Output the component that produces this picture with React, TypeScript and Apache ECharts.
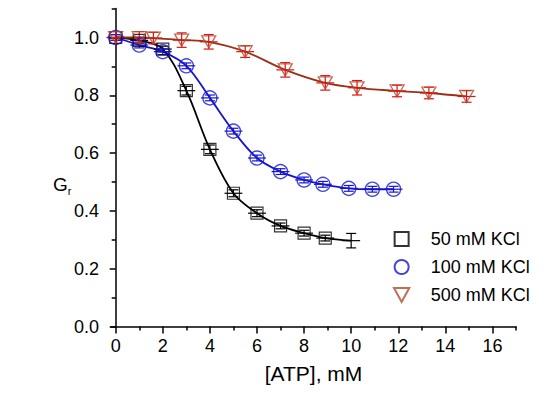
import React, { useEffect, useRef } from "react";
import * as echarts from "echarts";

// ---- data ----
const x50 = [0, 1, 2, 3, 4, 5, 6, 7, 8, 8.9, 10];
const y50 = [1.0, 0.99, 0.96, 0.816, 0.613, 0.461, 0.392, 0.348, 0.323, 0.306, 0.297];
const ye50 = [0.01, 0.01, 0.01, 0.015, 0.015, 0.012, 0.012, 0.01, 0.01, 0.01, 0.025];

const x100 = [0, 1, 2, 3, 4, 5, 6, 7, 8, 8.8, 9.9, 10.9, 11.8];
const y100 = [1.0, 0.974, 0.951, 0.902, 0.791, 0.676, 0.583, 0.536, 0.507, 0.492, 0.478, 0.475, 0.475];
const ye100 = [0.01, 0.01, 0.01, 0.01, 0.01, 0.01, 0.01, 0.01, 0.01, 0.01, 0.01, 0.01, 0.01];

const x500 = [0, 1, 1.6, 2.8, 3.95, 5.5, 7.2, 8.9, 10.25, 11.95, 13.3, 14.9];
const y500 = [1.0, 1.0, 0.998, 0.991, 0.985, 0.951, 0.888, 0.843, 0.826, 0.815, 0.808, 0.796];
const ye500 = [0.02, 0.02, 0.02, 0.025, 0.025, 0.02, 0.025, 0.025, 0.025, 0.02, 0.02, 0.02];

const seriesNames = ["50 mM KCl", "100 mM KCl", "500 mM KCl"];
const xMajorTicks = [0, 2, 4, 6, 8, 10, 12, 14, 16];
const xMinorTicks = [1, 3, 5, 7, 9, 11, 13, 15, 17];
const yMajorTicks = [0, 0.2, 0.4, 0.6, 0.8, 1.0];
const yMinorTicks = [0.1, 0.3, 0.5, 0.7, 0.9, 1.1];

const FONT = "'Liberation Sans', Arial, sans-serif";
const XERR = 0.38;

const pairs = (xs: number[], ys: number[]) => xs.map((x, i) => [x, ys[i]]);
const errs = (xs: number[], ys: number[], es: number[]) => xs.map((x, i) => [x, ys[i], XERR, es[i]]);

const sqPath = "path://M0,0 L10,0 L10,10 L0,10 Z";
const triPath = "path://M0,0 L12,0 L6,11 Z";

function errorSeries(data: number[][], color: string) {
  return {
    type: "custom",
    xAxisIndex: 0,
    yAxisIndex: 0,
    data,
    z: 5,
    silent: true,
    renderItem: (params: any, api: any) => {
      const x = api.value(0);
      const y = api.value(1);
      const xe = api.value(2);
      const ye = api.value(3);
      const l = api.coord([x - xe, y]);
      const r = api.coord([x + xe, y]);
      const t = api.coord([x, y + ye]);
      const b = api.coord([x, y - ye]);
      const st = { stroke: color, lineWidth: 1.2 };
      const cap = 5;
      return {
        type: "group",
        children: [
          { type: "line", shape: { x1: l[0], y1: l[1], x2: r[0], y2: r[1] }, style: st },
          { type: "line", shape: { x1: t[0], y1: t[1], x2: b[0], y2: b[1] }, style: st },
          { type: "line", shape: { x1: t[0] - cap, y1: t[1], x2: t[0] + cap, y2: t[1] }, style: st },
          { type: "line", shape: { x1: b[0] - cap, y1: b[1], x2: b[0] + cap, y2: b[1] }, style: st },
        ],
      };
    },
  };
}

export default function App() {
  const ref = useRef<HTMLDivElement>(null);
  useEffect(() => {
    const chart = echarts.init(ref.current!, null, { renderer: "svg" });
    const axisLine = { show: true, lineStyle: { color: "#000", width: 1.5 } };
    chart.setOption({
      animation: false,
      backgroundColor: "#fff",
      textStyle: { fontFamily: FONT },
      grid: { left: 111, right: 34, top: 8.6, bottom: 72.5, containLabel: false, outerBoundsMode: "none" },
      legend: {
        orient: "vertical",
        left: 388,
        top: 225,
        itemWidth: 48,
        itemHeight: 14,
        itemGap: 10,
        symbolKeepAspect: true,
        textStyle: { fontSize: 18, color: "#000", fontFamily: FONT },
        data: seriesNames,
      },
      xAxis: [
        {
          type: "value",
          min: -0.2,
          max: 17,
          position: "bottom",
          axisLine,
          splitLine: { show: false },
          axisTick: { show: true, inside: false, length: 7, customValues: xMajorTicks, lineStyle: { color: "#000", width: 1.5 } },
          axisLabel: { customValues: xMajorTicks, fontSize: 18, color: "#000", margin: 10, fontFamily: FONT },
          name: "[ATP], mM",
          nameLocation: "middle",
          nameGap: 36,
          nameTextStyle: { fontSize: 21, color: "#000", fontFamily: FONT },
        },
        {
          type: "value",
          min: -0.2,
          max: 17,
          position: "bottom",
          axisLine: { show: false },
          splitLine: { show: false },
          axisTick: { show: true, inside: false, length: 4, customValues: xMinorTicks, lineStyle: { color: "#000", width: 1.5 } },
          axisLabel: { show: false },
        },
      ],
      yAxis: [
        {
          type: "value",
          min: 0,
          max: 1.1,
          position: "left",
          axisLine,
          splitLine: { show: false },
          axisTick: { show: true, inside: false, length: 6, customValues: yMajorTicks, lineStyle: { color: "#000", width: 1.5 } },
          axisLabel: {
            customValues: yMajorTicks,
            fontSize: 18,
            color: "#000",
            margin: 12,
            fontFamily: FONT,
            formatter: (v: number) => v.toFixed(1),
          },
        },
        {
          type: "value",
          min: 0,
          max: 1.1,
          position: "left",
          axisLine: { show: false },
          splitLine: { show: false },
          axisTick: { show: true, inside: false, length: 4, customValues: yMinorTicks, lineStyle: { color: "#000", width: 1.5 } },
          axisLabel: { show: false },
        },
      ],
      graphic: [
        {
          type: "text",
          left: 53,
          top: 175,
          style: {
            text: "{g|G}{s|r}",
            rich: {
              g: { fontSize: 19, fontFamily: FONT, fill: "#000" },
              s: { fontSize: 11, fontFamily: FONT, fill: "#000", padding: [13, 0, 0, 0] },
            },
          },
        },
      ],
      series: [
        // fitted curves
        {
          type: "line", name: "fit50", data: pairs(x50, y50), smooth: 0.35, symbol: "none",
          lineStyle: { color: "#000", width: 1.8 }, z: 2, silent: true,
        },
        {
          type: "line", name: "fit100", data: pairs(x100, y100), smooth: 0.35, symbol: "none",
          lineStyle: { color: "#1515d0", width: 1.8 }, z: 2, silent: true,
        },
        {
          type: "line", name: "fit500", data: pairs(x500, y500), smooth: 0.35, symbol: "none",
          lineStyle: { color: "#9a3015", width: 1.8 }, z: 2, silent: true,
        },
        errorSeries(errs(x50, y50, ye50), "#000"),
        errorSeries(errs(x100, y100, ye100), "#1515d0"),
        errorSeries(errs(x500, y500, ye500), "#e01010"),
        // symbols
        {
          type: "scatter", name: seriesNames[0],
          data: pairs(x50, y50).map((p, i) => (i === x50.length - 1 ? { value: p, symbolSize: 0 } : p)),
          symbol: sqPath, symbolSize: 12, symbolKeepAspect: true,
          itemStyle: { color: "rgba(255,255,255,0)", borderColor: "#000", borderWidth: 1.2 }, z: 6,
        },
        {
          type: "scatter", name: seriesNames[1], data: pairs(x100, y100),
          symbol: "circle", symbolSize: 14,
          itemStyle: { color: "rgba(255,255,255,0)", borderColor: "#1515d0", borderWidth: 1.4 }, z: 6,
        },
        {
          type: "scatter", name: seriesNames[2], data: pairs(x500, y500),
          symbol: triPath, symbolSize: [14, 12],
          itemStyle: { color: "rgba(255,255,255,0)", borderColor: "#b04a2a", borderWidth: 1.3 }, z: 6,
        },
      ],
    });
    return () => chart.dispose();
  }, []);
  return <div ref={ref} style={{ position: "fixed", left: 0, top: 0, width: 550, height: 399 }} />;
}
